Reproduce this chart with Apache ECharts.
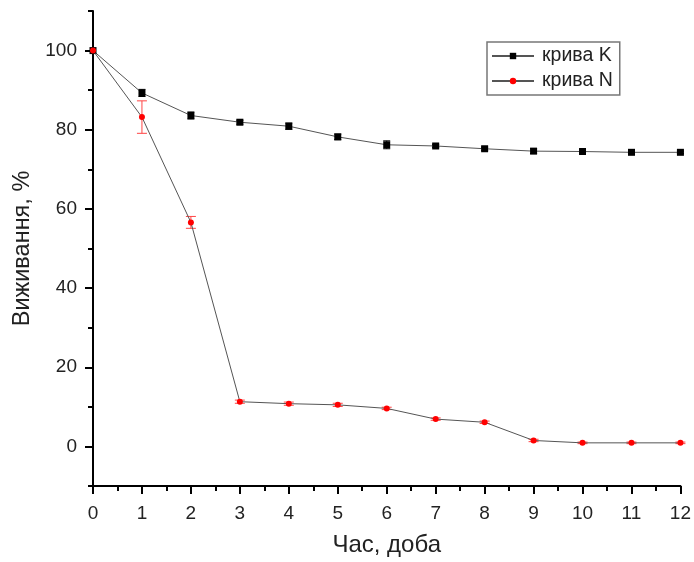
<!DOCTYPE html>
<html><head><meta charset="utf-8">
<script src="https://cdn.jsdelivr.net/npm/echarts@6/dist/echarts.min.js"></script>
<style>html,body{margin:0;padding:0;background:#fff}#c{width:694px;height:562px}</style>
</head><body><div id="c"></div>
<script>
const days = [0,1,2,3,4,5,6,7,8,9,10,11,12];
const survK = [100, 89.3, 83.6, 81.9, 80.9, 78.2, 76.2, 75.9, 75.2, 74.6, 74.5, 74.3, 74.3];
const errK = [0, 0.9, 0.9, 0.5, 0.8, 0.7, 1.0, 0.4, 0.4, 0.6, 0.4, 0.3, 0.3];
const survN = [100, 83.2, 56.6, 11.3, 10.8, 10.5, 9.6, 6.9, 6.1, 1.5, 0.9, 0.9, 0.9];
const errN = [0, 4.1, 1.5, 0.4, 0.4, 0.4, 0.3, 0.3, 0.3, 0.3, 0.2, 0.2, 0.2];
const yMajorTicks = [0, 20, 40, 60, 80, 100];
const yMinorTicks = [-10, 10, 30, 50, 70, 90, 110];
const seriesNames = ['крива K', 'крива N'];
const xTitle = 'Час, доба';
const yTitle = 'Виживання, %';

const FONT = "'Liberation Sans', Arial, sans-serif";

function errData(vals, errs) {
  return days.map((d, i) => [d, vals[i] - errs[i], vals[i] + errs[i]]).filter((r, i) => errs[i] > 0);
}
function errRender(color, half) {
  return function (params, api) {
    const x = api.value(0), lo = api.value(1), hi = api.value(2);
    const p1 = api.coord([x, lo]), p2 = api.coord([x, hi]);
    const st = { stroke: color, lineWidth: 1 };
    return { type: 'group', children: [
      { type: 'line', shape: { x1: p1[0], y1: p1[1], x2: p2[0], y2: p2[1] }, style: st },
      { type: 'line', shape: { x1: p1[0] - half, y1: p1[1], x2: p1[0] + half, y2: p1[1] }, style: st },
      { type: 'line', shape: { x1: p2[0] - half, y1: p2[1], x2: p2[0] + half, y2: p2[1] }, style: st }
    ] };
  };
}

const chart = echarts.init(document.getElementById('c'), null, { renderer: 'canvas' });
chart.setOption({
  animation: false,
  backgroundColor: '#fff',
  textStyle: { fontFamily: FONT },
  grid: { left: 93, right: 12, top: 11, bottom: 74, containLabel: false },
  legend: {
    data: seriesNames,
    orient: 'vertical',
    left: 487, top: 42,
    itemWidth: 42, itemHeight: 8, itemGap: 5,
    padding: [4, 7, 4, 4],
    borderColor: '#777', borderWidth: 1.5,
    textStyle: { fontSize: 19.5, color: '#222', fontFamily: FONT, lineHeight: 20, padding: [0, 0, 0, 3] }
  },
  xAxis: {
    type: 'value', min: 0, max: 12, interval: 1,
    axisLine: { onZero: false, lineStyle: { color: '#000', width: 2 } },
    axisTick: { show: true, length: 8, lineStyle: { color: '#000', width: 2 } },
    minorTick: { show: true, splitNumber: 2, length: 5, lineStyle: { color: '#000', width: 2 } },
    axisLabel: { fontSize: 19, color: '#222', margin: 18, fontFamily: FONT },
    splitLine: { show: false },
    name: xTitle, nameLocation: 'middle', nameGap: 47,
    nameTextStyle: { fontSize: 24, color: '#222', fontFamily: FONT }
  },
  yAxis: [{
    type: 'value', min: -10, max: 110, position: 'left',
    axisLine: { show: true, onZero: false, lineStyle: { color: '#000', width: 2 } },
    axisTick: { show: true, customValues: yMajorTicks, length: 8, lineStyle: { color: '#000', width: 2 } },
    axisLabel: { customValues: yMajorTicks, fontSize: 19, color: '#222', margin: 16, fontFamily: FONT },
    splitLine: { show: false },
    name: yTitle, nameLocation: 'middle', nameGap: 55,
    nameTextStyle: { fontSize: 23.5, color: '#222', fontFamily: FONT }
  }, {
    type: 'value', min: -10, max: 110, position: 'left', offset: 0,
    axisLine: { show: false, onZero: false },
    axisTick: { show: true, customValues: yMinorTicks, length: 5, lineStyle: { color: '#000', width: 2 } },
    axisLabel: { show: false },
    splitLine: { show: false }
  }],
  series: [
    {
      type: 'custom', name: 'errK', z: 1,
      renderItem: errRender('#000', 3.5),
      encode: { x: 0, y: [1, 2] },
      data: errData(survK, errK)
    },
    {
      type: 'custom', name: 'errN', z: 1,
      renderItem: errRender('#ff4444', 5),
      encode: { x: 0, y: [1, 2] },
      data: errData(survN, errN)
    },
    {
      type: 'line', name: seriesNames[0], z: 3,
      data: days.map((d, i) => [d, survK[i]]),
      symbol: 'rect', symbolSize: 7,
      itemStyle: { color: '#000' },
      lineStyle: { color: '#555', width: 1 }
    },
    {
      type: 'line', name: seriesNames[1], z: 4,
      data: days.map((d, i) => [d, survN[i]]),
      symbol: 'circle', symbolSize: 6,
      itemStyle: { color: '#ff0000' },
      lineStyle: { color: '#555', width: 1 }
    }
  ]
});
</script>
</body></html>
